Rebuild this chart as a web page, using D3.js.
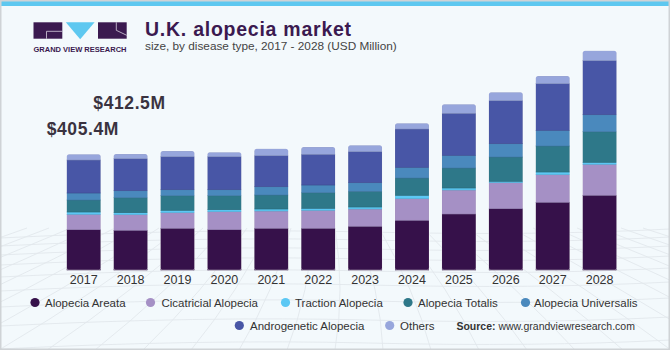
<!DOCTYPE html>
<html>
<head>
<meta charset="utf-8">
<script src="https://cdn.jsdelivr.net/npm/d3@7"></script>
<style>
  html, body { margin: 0; padding: 0; background: #ffffff; }
  svg { display: block; }
</style>
</head>
<body>
<svg id="chart" width="670" height="350"></svg>
<script>
// ---------------- data ----------------
const years = ["2017","2018","2019","2020","2021","2022","2023","2024","2025","2026","2027","2028"];
const seriesNames = ["Alopecia Areata","Cicatricial Alopecia","Traction Alopecia","Alopecia Totalis","Alopecia Universalis","Androgenetic Alopecia","Others"];
const areata       = [141, 139, 146, 141, 146, 146, 153, 174, 196, 214.5, 237, 261.5];
const cicatricial  = [54, 54.5, 54.5, 63, 60.5, 63, 60.5, 75.5, 84, 91, 96.5, 108.5];
const traction     = [8, 7, 8.5, 7, 7, 7, 7, 12, 7, 5, 9.5, 7];
const totalis      = [42, 52.5, 51, 49, 49, 54.5, 55, 60.5, 70, 85, 91, 107];
const universalis  = [24.5, 24.5, 21, 21, 29, 27, 30, 37.5, 44.5, 46.5, 55, 59.5];
const androgenetic = [115.5, 112, 115.5, 115.5, 108.5, 107.5, 108.5, 134, 147, 150.5, 163, 189];
const others       = [20, 16.5, 20, 15.5, 24.5, 25.5, 22.5, 20, 31.5, 29.5, 27, 35];
const annotations  = ["$412.5M", "$405.4M"];
const colors = ["#36114a","#a590c5","#5cc8f4","#2e7889","#4a89bd","#4856a6","#97a6dc"];

const seriesValues = [areata, cicatricial, traction, totalis, universalis, androgenetic, others];
const table = years.map((y, i) => {
  const row = { year: y };
  seriesNames.forEach((s, k) => row[s] = seriesValues[k][i]);
  return row;
});

// ---------------- layout ----------------
const svg = d3.select("#chart");
const W = 670, H = 350;

// background + frame
svg.append("rect").attr("x", 0).attr("y", 0).attr("width", W).attr("height", H).attr("fill", "#f3f9fc");

// faint perspective mesh in lower area
const mesh = svg.append("g").attr("stroke", "#e2e8ec").attr("fill", "none").attr("stroke-width", 0.9);
const hy = [232, 240, 249, 259, 271, 285, 301, 320, 343];
hy.forEach((y, i) => {
  mesh.append("path").attr("d", `M0,${y + 6} Q${W * 0.3},${y - 4} ${W * 0.55},${y} T${W},${y - 3}`);
});
for (let k = -14; k <= 14; k++) {
  const xb = W / 2 + k * 48;
  const xt = W / 2 + k * 22;
  mesh.append("path").attr("d", `M${xt},228 Q${(xt + xb) / 2 + 10},290 ${xb},350`);
}

// top strip and border
svg.append("rect").attr("x", 1).attr("y", 1).attr("width", W - 2).attr("height", 5).attr("fill", "#5ec8f0");
svg.append("rect").attr("x", 0.75).attr("y", 0.75).attr("width", W - 1.5).attr("height", H - 1.5)
  .attr("fill", "none").attr("stroke", "#cfd3d6").attr("stroke-width", 1.5);

// ---------------- logo ----------------
const logo = svg.append("g");
const dark = "#3b1a50";
logo.append("rect").attr("x", 33.5).attr("y", 22.3).attr("width", 28.8).attr("height", 16.4).attr("fill", dark);
logo.append("path").attr("d", "M46.5,38.7 V31.3 H62.3").attr("stroke", "#d8d0e0").attr("stroke-width", 0.8).attr("fill", "none");
logo.append("path").attr("d", "M65.8,22.3 H94.6 L80.2,39.3 Z").attr("fill", "#5ec8f0");
logo.append("rect").attr("x", 98).attr("y", 22.3).attr("width", 28.7).attr("height", 16.4).attr("fill", dark);
logo.append("path").attr("d", "M116.3,22.3 V30.3 L126.7,35.3").attr("stroke", "#d8d0e0").attr("stroke-width", 0.8).attr("fill", "none");
logo.append("text").attr("x", 33.5).attr("y", 51.8).attr("textLength", 93).attr("lengthAdjust", "spacingAndGlyphs")
  .attr("font-family", "Liberation Sans, Arial, sans-serif").attr("font-weight", "bold").attr("font-size", 8)
  .attr("fill", dark).text("GRAND VIEW RESEARCH");

// ---------------- title ----------------
svg.append("text").attr("x", 145).attr("y", 36)
  .attr("font-family", "Liberation Sans, Arial, sans-serif").attr("font-weight", "bold")
  .attr("font-size", 19.5).attr("letter-spacing", 0.75).attr("fill", dark)
  .text("U.K. alopecia market");
svg.append("text").attr("x", 145).attr("y", 50)
  .attr("font-family", "Liberation Sans, Arial, sans-serif").attr("font-size", 11.8).attr("fill", "#444")
  .text("size, by disease type, 2017 - 2028 (USD Million)");

// ---------------- scales ----------------
const x = d3.scaleBand().domain(years).range([60.25, 623.05]).paddingInner(0.275).paddingOuter(0.1375);
const y = d3.scaleLinear().domain([0, 770]).range([270, 50]);

const stack = d3.stack().keys(seriesNames);
const stacked = stack(table);

// clip paths for rounded bar tops
const defs = svg.append("defs");
years.forEach((yr, i) => {
  const total = d3.sum(seriesValues, s => s[i]);
  defs.append("clipPath").attr("id", "clip" + i)
    .append("rect").attr("x", x(yr)).attr("y", y(total)).attr("width", x.bandwidth())
    .attr("height", y(0) - y(total) + 4).attr("rx", 2.5);
});

const barsG = svg.append("g");
years.forEach((yr, i) => {
  const g = barsG.append("g").attr("clip-path", `url(#clip${i})`);
  stacked.forEach((layer, k) => {
    const d = layer[i];
    g.append("rect")
      .attr("x", x(yr)).attr("width", x.bandwidth())
      .attr("y", y(d[1])).attr("height", y(d[0]) - y(d[1]))
      .attr("fill", colors[k])
      .attr("stroke", d3.color(colors[k]).darker(0.4)).attr("stroke-width", 0.6);
  });
  const total = d3.sum(seriesValues, s => s[i]);
  barsG.append("rect").attr("x", x(yr) - 0.3).attr("y", y(total) - 0.3)
    .attr("width", x.bandwidth() + 0.6).attr("height", y(0) - y(total) + 0.3).attr("rx", 2.5)
    .attr("fill", "none").attr("stroke", "#ffffff").attr("stroke-opacity", 0.45).attr("stroke-width", 0.8);
});

// x axis labels
const xAxis = d3.axisBottom(x).tickSize(0).tickPadding(4);
const ax = svg.append("g").attr("transform", "translate(0,271)").call(xAxis);
ax.select(".domain").remove();
ax.selectAll("text").attr("font-family", "Liberation Sans, Arial, sans-serif").attr("font-size", 12.5).attr("fill", "#333");

// annotations
svg.append("text").attr("x", 93.3).attr("y", 109.3)
  .attr("font-family", "Liberation Sans, Arial, sans-serif").attr("font-weight", "bold").attr("font-size", 17.5)
  .attr("letter-spacing", 0.6).attr("fill", "#3a3340").text(annotations[0]);
svg.append("text").attr("x", 46.7).attr("y", 135)
  .attr("font-family", "Liberation Sans, Arial, sans-serif").attr("font-weight", "bold").attr("font-size", 17.5)
  .attr("letter-spacing", 0.6).attr("fill", "#3a3340").text(annotations[1]);

// legend
const legendPos = [
  { cx: 35, tx: 45, cy: 302.5 },
  { cx: 150.5, tx: 161.5, cy: 302.5 },
  { cx: 285.5, tx: 295, cy: 302.5 },
  { cx: 408, tx: 418, cy: 302.5 },
  { cx: 525.5, tx: 534, cy: 302.5 },
  { cx: 239.3, tx: 250, cy: 325.5 },
  { cx: 389.7, tx: 400, cy: 325.5 }
];
const lg = svg.append("g");
seriesNames.forEach((s, k) => {
  const p = legendPos[k];
  lg.append("circle").attr("cx", p.cx).attr("cy", p.cy).attr("r", 4.6).attr("fill", colors[k]);
  lg.append("text").attr("x", p.tx).attr("y", p.cy + 4)
    .attr("font-family", "Liberation Sans, Arial, sans-serif").attr("font-size", 11.5).attr("fill", "#333")
    .text(s);
});

// source
const src = svg.append("text").attr("x", 456.4).attr("y", 329.5)
  .attr("font-family", "Liberation Sans, Arial, sans-serif").attr("font-size", 10.5).attr("fill", "#333");
src.append("tspan").attr("font-weight", "bold").text("Source: ");
src.append("tspan").text("www.grandviewresearch.com");
</script>
</body>
</html>
